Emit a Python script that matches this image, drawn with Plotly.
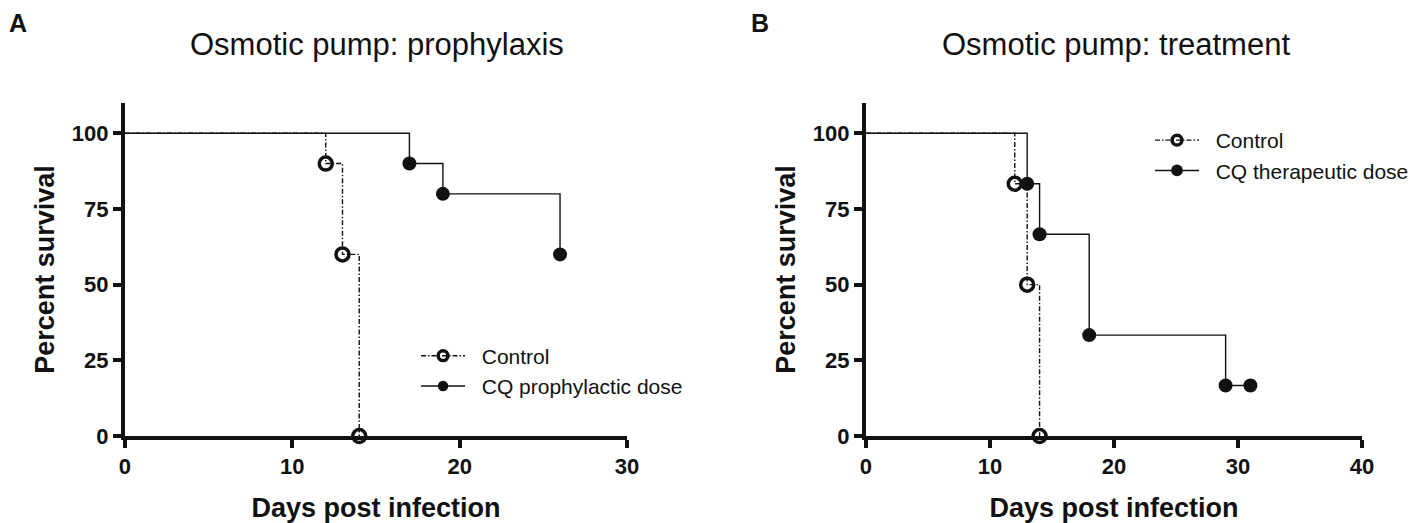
import plotly.graph_objects as go

# panel A: prophylaxis
a_ctrl_days = [0, 12, 13, 14]
a_ctrl_surv = [100, 90, 60, 0]
a_cq_days = [0, 17, 19, 26]
a_cq_surv = [100, 90, 80, 60]

# panel B: treatment
b_ctrl_days = [0, 12, 13, 14]
b_ctrl_surv = [100, 83.33, 50, 0]
b_cq_days = [0, 13, 14, 18, 29, 31]
b_cq_surv = [100, 83.33, 66.67, 33.33, 16.67, 16.67]

y_ticks = [0, 25, 50, 75, 100]
a_x_ticks = [0, 10, 20, 30]
b_x_ticks = [0, 10, 20, 30, 40]

FONT = "Liberation Sans, Arial"
INK = "#111111"
GAP = "\u00a0\u00a0"  # a little extra room between legend symbol and label


def km_trace(days, surv, name, open_marker, xa, ya, leg):
    n = len(days)
    if open_marker:
        marker = dict(symbol="circle-open", size=[0] + [13] * (n - 1), color=INK, opacity=1,
                      line=dict(width=3.5, color=INK))
        line = dict(color=INK, width=1.4, dash="5px,2px,1.5px,2px", shape="hv")
    else:
        marker = dict(symbol="circle", size=[0] + [14] * (n - 1), color=INK, opacity=1,
                      line=dict(width=0))
        line = dict(color=INK, width=1.4, shape="hv")
    return go.Scatter(
        x=days, y=surv, name=GAP + name, mode="lines+markers",
        line=line, marker=marker, xaxis=xa, yaxis=ya, legend=leg,
        cliponaxis=False,
    )


fig = go.Figure()
fig.add_trace(km_trace(a_ctrl_days, a_ctrl_surv, "Control", True, "x", "y", "legend"))
fig.add_trace(km_trace(a_cq_days, a_cq_surv, "CQ prophylactic dose", False, "x", "y", "legend"))
fig.add_trace(km_trace(b_ctrl_days, b_ctrl_surv, "Control", True, "x2", "y2", "legend2"))
fig.add_trace(km_trace(b_cq_days, b_cq_surv, "CQ therapeutic dose", False, "x2", "y2", "legend2"))

axis_common = dict(
    showgrid=False, zeroline=False, showline=True, linecolor=INK, linewidth=4,
    ticks="outside", ticklen=8, tickwidth=4, tickcolor=INK, automargin=False,
    tickfont=dict(family=FONT, size=22, color=INK, weight="bold"),
)
title_font = dict(family=FONT, size=27, color=INK, weight="bold")
leg_font = dict(family=FONT, size=21, color=INK)

# page sits 8px in from the window corner, so the figure is sized to what stays visible
fig.update_layout(
    width=1409, height=515,
    margin=dict(l=0, r=0, t=0, b=0, autoexpand=False),
    plot_bgcolor="white", paper_bgcolor="white",
    xaxis=dict(domain=[0.0830, 0.4393], range=[0, 30], tickvals=a_x_ticks, anchor="y",
               title=dict(text="Days post infection", font=title_font, standoff=28), **axis_common),
    yaxis=dict(domain=[0.1689, 0.8155], range=[0, 110], tickvals=y_ticks, anchor="x",
               title=dict(text="Percent survival", font=title_font, standoff=10), **axis_common),
    xaxis2=dict(domain=[0.6089, 0.9610], range=[0, 40], tickvals=b_x_ticks, anchor="y2",
                title=dict(text="Days post infection", font=title_font, standoff=28), **axis_common),
    yaxis2=dict(domain=[0.1689, 0.8155], range=[0, 110], tickvals=y_ticks, anchor="x2",
                title=dict(text="Percent survival", font=title_font, standoff=10), **axis_common),
    legend=dict(x=0.2896, y=0.295, xanchor="left", yanchor="middle", bgcolor="rgba(0,0,0,0)",
                font=leg_font, itemwidth=44, tracegroupgap=0),
    legend2=dict(x=0.8105, y=0.7136, xanchor="left", yanchor="middle", bgcolor="rgba(0,0,0,0)",
                 font=leg_font, itemwidth=44, tracegroupgap=0),
    showlegend=True,
)

fig.add_annotation(text="Osmotic pump: prophylaxis", x=0.2619, y=0.930, xref="paper", yref="paper",
                   xanchor="center", yanchor="middle", showarrow=False,
                   font=dict(family=FONT, size=31, color=INK))
fig.add_annotation(text="Osmotic pump: treatment", x=0.7864, y=0.930, xref="paper", yref="paper",
                   xanchor="center", yanchor="middle", showarrow=False,
                   font=dict(family=FONT, size=31, color=INK))
fig.add_annotation(text="A", x=0.0, y=1.0, xref="paper", yref="paper", xanchor="left",
                   yanchor="top", showarrow=False, borderpad=0,
                   font=dict(family=FONT, size=25, color=INK, weight="bold"))
fig.add_annotation(text="B", x=0.5266, y=1.0, xref="paper", yref="paper", xanchor="left",
                   yanchor="top", showarrow=False, borderpad=0,
                   font=dict(family=FONT, size=25, color=INK, weight="bold"))

fig.write_html("out.html")
